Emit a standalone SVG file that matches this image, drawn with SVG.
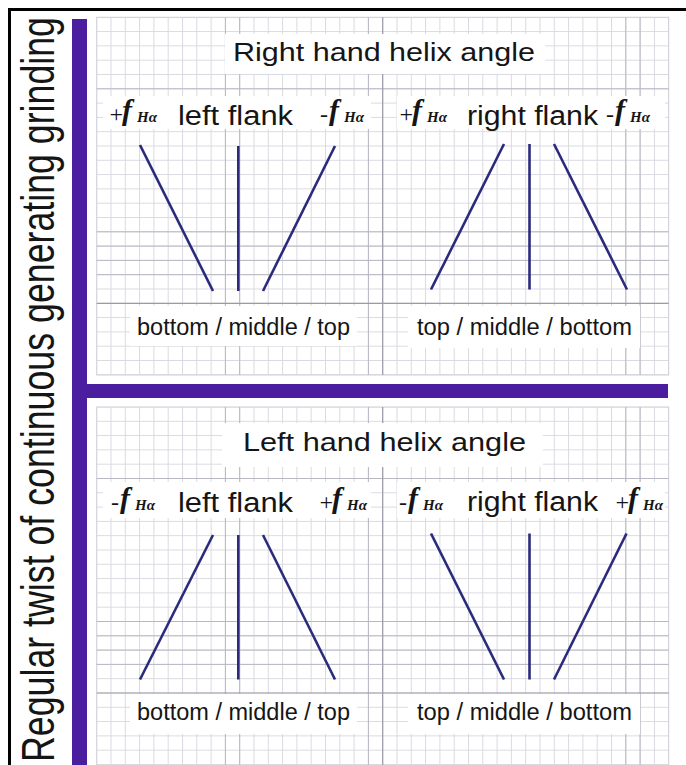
<svg xmlns="http://www.w3.org/2000/svg" width="686" height="765" viewBox="0 0 686 765">
  <defs>
    <pattern id="gridTop" x="96.2" y="16.8" width="14.3" height="14.3" patternUnits="userSpaceOnUse">
      <path d="M0.5 0 V14.3 M0 0.5 H14.3" stroke="#d9d9e1" stroke-width="1" fill="none"/>
    </pattern>
    <pattern id="gridBot" x="96.2" y="406.5" width="14.3" height="14.3" patternUnits="userSpaceOnUse">
      <path d="M0.5 0 V14.3 M0 0.5 H14.3" stroke="#d9d9e1" stroke-width="1" fill="none"/>
    </pattern>
  </defs>
  <style>
    .lbl { font-family: "Liberation Sans", Arial, sans-serif; fill: #151515; }
    .sym { font-family: "Liberation Serif", "Times New Roman", serif; fill: #151515; font-style: italic; font-weight: bold; }
    .sign { font-size: 24px; font-weight: normal; }
    .f { font-size: 30px; }
    .sub { font-size: 15px; }
    .mid { stroke: #b8b8c4; stroke-width: 1; }
    .dark { stroke: #9a9aa8; stroke-width: 1.2; }
    .box { fill: #ffffff; }
    .flank { stroke: #2b2a7c; stroke-width: 2.6; stroke-linecap: butt; }
    .bar { fill: #4a1e9e; }
  </style>
  <rect x="0" y="0" width="686" height="765" fill="#ffffff"/>

  <!-- panels -->
  <g id="panel-top">
    <rect x="96.7" y="17.3" width="572" height="357.7" fill="url(#gridTop)" stroke="#cfcfd8" stroke-width="1"/>
    <path class="mid" d="M225.4 17.3 V375 M239.7 17.3 V375 M368.4 17.3 V375 M625.8 17.3 V375 M640.1 17.3 V375 M96.7 88.8 H668.7 M96.7 231.8 H668.7 M96.7 246.1 H668.7 M96.7 260.4 H668.7 M96.7 274.7 H668.7"/>
    <path class="dark" d="M382.7 17.3 V375 M96.7 303.3 H668.7"/>
    <rect class="box" x="225" y="34" width="320" height="40"/>
    <rect class="box" x="103" y="96" width="268" height="33"/>
    <rect class="box" x="397" y="96" width="268" height="33"/>
    <rect class="box" x="130" y="306" width="227" height="40"/>
    <rect class="box" x="408" y="306" width="232" height="42"/>
  </g>
  <g id="panel-bottom">
    <rect x="96.7" y="407" width="572" height="370" fill="url(#gridBot)" stroke="#cfcfd8" stroke-width="1"/>
    <path class="mid" d="M225.4 407 V765 M239.7 407 V765 M368.4 407 V765 M625.8 407 V765 M640.1 407 V765 M96.7 478.5 H668.7 M96.7 621.5 H668.7 M96.7 635.8 H668.7 M96.7 650.1 H668.7 M96.7 664.4 H668.7"/>
    <path class="dark" d="M382.7 407 V765 M96.7 693 H668.7"/>
    <rect class="box" x="222" y="423" width="321" height="44"/>
    <rect class="box" x="103" y="482" width="268" height="36"/>
    <rect class="box" x="397" y="482" width="268" height="36"/>
    <rect class="box" x="130" y="694" width="227" height="40"/>
    <rect class="box" x="408" y="694" width="232" height="40"/>
  </g>

  <!-- frame and bars -->
  <g id="frame">
    <path d="M686 9.5 H9.5 V765" fill="none" stroke="#000000" stroke-width="3"/>
  </g>
  <g id="bars">
    <rect class="bar" x="72" y="19" width="15" height="746"/>
    <rect class="bar" x="87" y="384" width="581" height="14"/>
  </g>

  <g id="side-label">
    <text class="lbl" font-size="35" transform="translate(54,762) scale(1.3,1) rotate(-90)" textLength="745" lengthAdjust="spacingAndGlyphs">Regular twist of continuous generating grinding</text>
  </g>

  <!-- top: right hand helix angle -->
  <g id="title-right-hand">
    <text class="lbl" x="233" y="61" font-size="26" textLength="302" lengthAdjust="spacingAndGlyphs">Right hand helix angle</text>
  </g>
  <g id="top-left-flank">
    <text class="sym"><tspan class="sign" x="108" y="122">+</tspan><tspan class="f" x="122" y="120">f</tspan><tspan class="sub" x="137" y="122">Hα</tspan></text>
    <text class="lbl" x="178" y="125" font-size="27" textLength="115" lengthAdjust="spacingAndGlyphs">left flank</text>
    <text class="sym"><tspan class="sign" x="320" y="122">-</tspan><tspan class="f" x="329" y="120">f</tspan><tspan class="sub" x="344" y="122">Hα</tspan></text>
    <text class="lbl" x="137" y="335" font-size="23" textLength="213" lengthAdjust="spacingAndGlyphs">bottom / middle / top</text>
  </g>
  <g id="top-right-flank">
    <text class="sym"><tspan class="sign" x="398" y="122">+</tspan><tspan class="f" x="412" y="120">f</tspan><tspan class="sub" x="427" y="122">Hα</tspan></text>
    <text class="lbl" x="467" y="125" font-size="27" textLength="131" lengthAdjust="spacingAndGlyphs">right flank</text>
    <text class="sym"><tspan class="sign" x="606" y="122">-</tspan><tspan class="f" x="615" y="120">f</tspan><tspan class="sub" x="630" y="122">Hα</tspan></text>
    <text class="lbl" x="417" y="335" font-size="23" textLength="215" lengthAdjust="spacingAndGlyphs">top / middle / bottom</text>
  </g>

  <!-- bottom: left hand helix angle -->
  <g id="title-left-hand">
    <text class="lbl" x="243" y="451" font-size="26" textLength="283" lengthAdjust="spacingAndGlyphs">Left hand helix angle</text>
  </g>
  <g id="bottom-left-flank">
    <text class="sym"><tspan class="sign" x="111" y="510">-</tspan><tspan class="f" x="120" y="508">f</tspan><tspan class="sub" x="135" y="510">Hα</tspan></text>
    <text class="lbl" x="178" y="512" font-size="27" textLength="115" lengthAdjust="spacingAndGlyphs">left flank</text>
    <text class="sym"><tspan class="sign" x="318" y="510">+</tspan><tspan class="f" x="332" y="508">f</tspan><tspan class="sub" x="347" y="510">Hα</tspan></text>
    <text class="lbl" x="137" y="720" font-size="23" textLength="213" lengthAdjust="spacingAndGlyphs">bottom / middle / top</text>
  </g>
  <g id="bottom-right-flank">
    <text class="sym"><tspan class="sign" x="399" y="510">-</tspan><tspan class="f" x="408" y="508">f</tspan><tspan class="sub" x="423" y="510">Hα</tspan></text>
    <text class="lbl" x="467" y="511" font-size="27" textLength="131" lengthAdjust="spacingAndGlyphs">right flank</text>
    <text class="sym"><tspan class="sign" x="614" y="510">+</tspan><tspan class="f" x="628" y="508">f</tspan><tspan class="sub" x="643" y="510">Hα</tspan></text>
    <text class="lbl" x="417" y="720" font-size="23" textLength="215" lengthAdjust="spacingAndGlyphs">top / middle / bottom</text>
  </g>

  <!-- flank lines -->
  <g id="connectors">
    <line class="flank" x1="140" y1="145" x2="213" y2="291"/>
    <line class="flank" x1="238.3" y1="146" x2="238.3" y2="291"/>
    <line class="flank" x1="335" y1="146" x2="263" y2="291"/>
    <line class="flank" x1="504" y1="144" x2="431" y2="289.5"/>
    <line class="flank" x1="529.5" y1="144" x2="529.5" y2="289.5"/>
    <line class="flank" x1="554" y1="144" x2="627" y2="289.5"/>
    <line class="flank" x1="213" y1="535" x2="140" y2="679.5"/>
    <line class="flank" x1="238.3" y1="535" x2="238.3" y2="679.5"/>
    <line class="flank" x1="263" y1="535" x2="335" y2="679.5"/>
    <line class="flank" x1="431" y1="533.5" x2="504" y2="679.5"/>
    <line class="flank" x1="529.5" y1="533.5" x2="529.5" y2="679.5"/>
    <line class="flank" x1="626.5" y1="533.5" x2="554" y2="679.5"/>
  </g>
</svg>
